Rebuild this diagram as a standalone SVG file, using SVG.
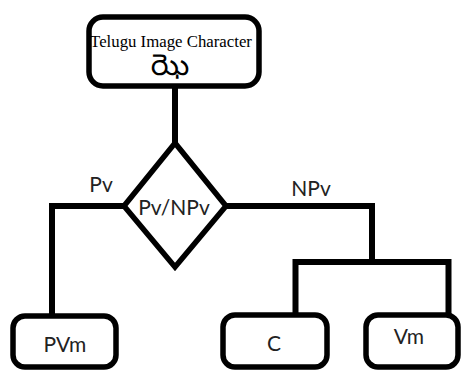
<svg xmlns="http://www.w3.org/2000/svg" width="462" height="372" viewBox="0 0 462 372">
<style>
.box{fill:#fff;stroke:#000;stroke-width:5.5}
.ln{fill:none;stroke:#000;stroke-width:6;stroke-linejoin:miter;stroke-linecap:square}
.t{font-family:Lato,"Open Sans",sans-serif;font-size:21px;fill:#222}
.tel{font-family:"Noto Sans Telugu","Noto Serif Telugu","Lohit Telugu",sans-serif;font-size:30px;fill:#000}
</style>
<rect width="462" height="372" fill="#fff"/>
<g id="connectors">
<path class="ln" d="M175,88 V142"/>
<path class="ln" d="M123,206 H52 V314"/>
<path class="ln" d="M227,206 H372 V262"/>
<path class="ln" d="M295.5,314 V262 H448.5 V313"/>
</g>
<g id="top">
<rect class="box" x="89" y="17" width="170" height="69" rx="14"/>
<text x="171" y="47" text-anchor="middle" font-family="'Liberation Serif',serif" font-size="16.8">Telugu Image Character</text>
<text class="tel" x="170" y="75" text-anchor="middle">ఝె</text>
</g>
<g id="decision">
<polygon class="box" points="175,143 226,206 175,267 124,206"/>
<text class="t" x="174" y="215" text-anchor="middle" font-size="23">Pv/NPv</text>
</g>
<text class="t" x="101" y="192" text-anchor="middle">Pv</text>
<text class="t" x="311" y="196" text-anchor="middle">NPv</text>
<g id="pvm">
<rect class="box" x="13" y="316" width="103" height="51" rx="12"/>
<text class="t" x="65" y="352" text-anchor="middle">PVm</text>
</g>
<g id="c">
<rect class="box" x="223" y="315" width="104" height="52" rx="12"/>
<text class="t" x="274" y="351" text-anchor="middle">C</text>
</g>
<g id="vm">
<rect class="box" x="366" y="315" width="92" height="52" rx="12"/>
<text class="t" x="409" y="344" text-anchor="middle">Vm</text>
</g>
</svg>
